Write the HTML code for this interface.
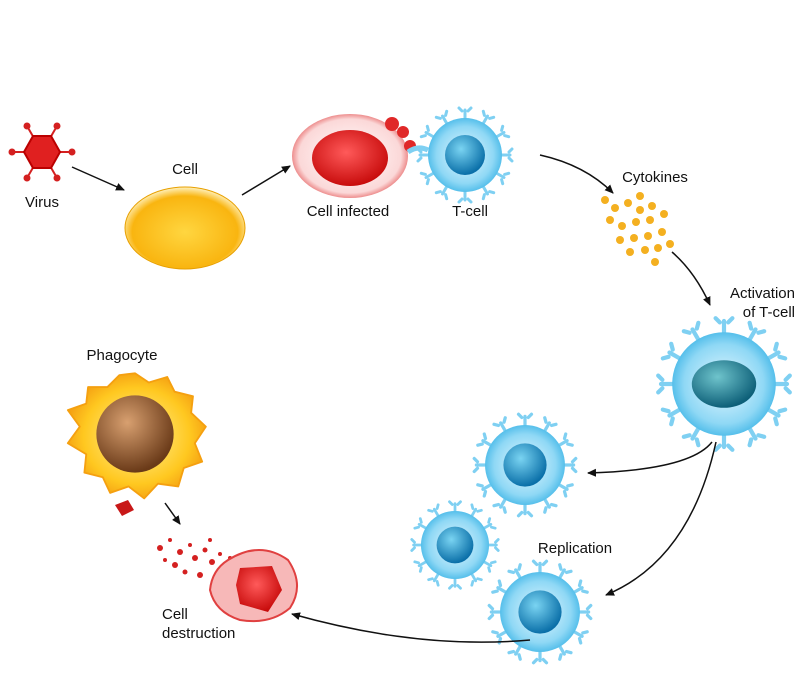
<!DOCTYPE html>
<html><head><meta charset="utf-8">
<style>
html,body{margin:0;padding:0;background:#fff;}
svg{display:block;}
text{font-family:"Liberation Sans",sans-serif;font-size:15px;fill:#111;}
</style></head>
<body>
<svg width="800" height="675" viewBox="0 0 800 675" xmlns="http://www.w3.org/2000/svg">
<defs>
<radialGradient id="yel" cx="50%" cy="55%" r="55%"><stop offset="0" stop-color="#ffd640"/><stop offset="0.8" stop-color="#f9b510"/><stop offset="1" stop-color="#fff2c0"/></radialGradient>
<radialGradient id="pink" cx="50%" cy="50%" r="55%"><stop offset="0" stop-color="#fff"/><stop offset="0.8" stop-color="#fbd8d8"/><stop offset="1" stop-color="#e25050"/></radialGradient>
<radialGradient id="red" cx="45%" cy="40%" r="60%"><stop offset="0" stop-color="#ff5a5a"/><stop offset="1" stop-color="#c80c0c"/></radialGradient>
<radialGradient id="blue" cx="50%" cy="50%" r="55%"><stop offset="0" stop-color="#e8f8ff"/><stop offset="0.7" stop-color="#8fd8f5"/><stop offset="1" stop-color="#3cb4e6"/></radialGradient>
<radialGradient id="nuc" cx="40%" cy="35%" r="65%"><stop offset="0" stop-color="#7ad4f2"/><stop offset="1" stop-color="#0a6fa8"/></radialGradient>
<radialGradient id="nuc2" cx="40%" cy="35%" r="65%"><stop offset="0" stop-color="#6fc4cc"/><stop offset="1" stop-color="#0d5f78"/></radialGradient>
<radialGradient id="phag" cx="50%" cy="50%" r="55%"><stop offset="0" stop-color="#fff3a0"/><stop offset="0.7" stop-color="#ffc820"/><stop offset="1" stop-color="#f39a10"/></radialGradient>
<radialGradient id="brown" cx="40%" cy="35%" r="65%"><stop offset="0" stop-color="#d8a070"/><stop offset="1" stop-color="#6a3a18"/></radialGradient>
<marker id="ah" markerWidth="10" markerHeight="10" refX="8" refY="5" orient="auto" markerUnits="userSpaceOnUse"><path d="M0,1 L9,5 L0,9 Z" fill="#111"/></marker>
<g id="spk">
  <g stroke="#7fd0f2" stroke-width="3" stroke-linecap="round" fill="none">
    <path d="M0,-1 V-9 M-3,-8 L-6,-11 M3,-8 L6,-11"/>
  </g>
</g>
<g id="spikes">
  <use href="#spk" transform="rotate(0) translate(0,-36)"/>
  <use href="#spk" transform="rotate(30) translate(0,-36)"/>
  <use href="#spk" transform="rotate(60) translate(0,-36)"/>
  <use href="#spk" transform="rotate(90) translate(0,-36)"/>
  <use href="#spk" transform="rotate(120) translate(0,-36)"/>
  <use href="#spk" transform="rotate(150) translate(0,-36)"/>
  <use href="#spk" transform="rotate(180) translate(0,-36)"/>
  <use href="#spk" transform="rotate(210) translate(0,-36)"/>
  <use href="#spk" transform="rotate(240) translate(0,-36)"/>
  <use href="#spk" transform="rotate(270) translate(0,-36)"/>
  <use href="#spk" transform="rotate(300) translate(0,-36)"/>
  <use href="#spk" transform="rotate(330) translate(0,-36)"/>
  <circle r="37" fill="url(#blue)"/>
</g>
<g id="tc">
  <use href="#spikes"/>
  <circle r="20" fill="url(#nuc)"/>
</g>
</defs>

<!-- Virus -->
<g transform="translate(42,152)" stroke="#d42020" stroke-width="2">
  <line x1="-30" y1="0" x2="30" y2="0"/><line x1="-15" y1="-26" x2="15" y2="26"/><line x1="15" y1="-26" x2="-15" y2="26"/>
  <circle cx="-30" cy="0" r="2.5" fill="#d42020"/><circle cx="30" cy="0" r="2.5" fill="#d42020"/>
  <circle cx="-15" cy="-26" r="2.5" fill="#d42020"/><circle cx="15" cy="26" r="2.5" fill="#d42020"/>
  <circle cx="15" cy="-26" r="2.5" fill="#d42020"/><circle cx="-15" cy="26" r="2.5" fill="#d42020"/>
  <polygon points="-18,0 -9,-16 9,-16 18,0 9,16 -9,16" fill="#e02020" stroke="#b00"/>
</g>
<text x="42" y="207" text-anchor="middle">Virus</text>
<line x1="72" y1="167" x2="124" y2="190" stroke="#111" stroke-width="1.5" marker-end="url(#ah)"/>

<!-- Cell -->
<ellipse cx="185" cy="228" rx="60" ry="41" fill="url(#yel)" stroke="#e8a000" stroke-width="1"/>
<text x="185" y="174" text-anchor="middle">Cell</text>
<line x1="242" y1="195" x2="290" y2="166" stroke="#111" stroke-width="1.5" marker-end="url(#ah)"/>

<!-- Cell infected -->
<ellipse cx="350" cy="156" rx="58" ry="42" fill="url(#pink)"/>
<ellipse cx="350" cy="158" rx="38" ry="28" fill="url(#red)"/>
<circle cx="392" cy="124" r="7" fill="#e02828"/><circle cx="403" cy="132" r="6" fill="#e02828"/><circle cx="410" cy="146" r="6" fill="#e02828"/>
<path d="M408,152 Q418,145 428,150" stroke="#7fd0f2" stroke-width="5" fill="none"/>
<text x="348" y="216" text-anchor="middle">Cell infected</text>

<!-- T-cell -->
<use href="#tc" transform="translate(465,155)"/>
<text x="470" y="216" text-anchor="middle">T-cell</text>
<path d="M540,155 Q585,165 613,193" fill="none" stroke="#111" stroke-width="1.5" marker-end="url(#ah)"/>

<!-- Cytokines -->
<text x="655" y="182" text-anchor="middle">Cytokines</text>
<g fill="#f4b020">
  <circle cx="605" cy="200" r="4"/><circle cx="615" cy="208" r="4"/><circle cx="628" cy="203" r="4"/><circle cx="640" cy="210" r="4"/>
  <circle cx="610" cy="220" r="4"/><circle cx="622" cy="226" r="4"/><circle cx="636" cy="222" r="4"/><circle cx="650" cy="220" r="4"/>
  <circle cx="620" cy="240" r="4"/><circle cx="634" cy="238" r="4"/><circle cx="648" cy="236" r="4"/><circle cx="662" cy="232" r="4"/>
  <circle cx="630" cy="252" r="4"/><circle cx="645" cy="250" r="4"/><circle cx="658" cy="248" r="4"/><circle cx="670" cy="244" r="4"/>
  <circle cx="655" cy="262" r="4"/><circle cx="640" cy="196" r="4"/><circle cx="652" cy="206" r="4"/><circle cx="664" cy="214" r="4"/>
</g>
<path d="M672,252 Q695,272 710,305" fill="none" stroke="#111" stroke-width="1.5" marker-end="url(#ah)"/>
<text x="795" y="298" text-anchor="end">Activation</text>
<text x="795" y="317" text-anchor="end">of T-cell</text>

<!-- Activated T-cell -->
<g transform="translate(724,384) scale(1.4)">
  <use href="#spikes"/>
  <ellipse rx="23" ry="17" fill="url(#nuc2)"/>
</g>
<path d="M712,442 Q690,470 588,473" fill="none" stroke="#111" stroke-width="1.5" marker-end="url(#ah)"/>
<path d="M716,442 Q690,560 606,595" fill="none" stroke="#111" stroke-width="1.5" marker-end="url(#ah)"/>

<!-- Replicated T-cells -->
<use href="#tc" transform="translate(525,465) scale(1.08)"/>
<use href="#tc" transform="translate(455,545) scale(0.92)"/>
<use href="#tc" transform="translate(540,612) scale(1.08)"/>
<text x="575" y="553" text-anchor="middle">Replication</text>
<path d="M530,640 Q420,650 292,614" fill="none" stroke="#111" stroke-width="1.5" marker-end="url(#ah)"/>

<!-- Phagocyte -->
<text x="122" y="360" text-anchor="middle">Phagocyte</text>
<g transform="translate(135,434) scale(0.92) translate(-135,-428)">
<path d="M135,362 L150,372 L170,366 L178,382 L198,387 L196,405 L212,420 L200,438 L208,458 L188,465 L182,485 L160,482 L145,498 L128,485 L108,492 L100,475 L80,470 L82,450 L62,438 L75,420 L62,402 L82,395 L84,377 L105,377 L118,364 Z" fill="url(#phag)" stroke="#f5a010" stroke-width="2" stroke-linejoin="round"/>
<circle cx="135" cy="428" r="42" fill="url(#brown)"/>
</g>
<path d="M115,505 L128,500 L134,510 L122,516 Z" fill="#c81818"/>
<line x1="165" y1="503" x2="180" y2="524" stroke="#111" stroke-width="1.5" marker-end="url(#ah)"/>

<!-- Debris -->
<g fill="#d42020">
  <circle cx="160" cy="548" r="3"/><circle cx="170" cy="540" r="2"/><circle cx="180" cy="552" r="3"/><circle cx="190" cy="545" r="2"/>
  <circle cx="195" cy="558" r="3"/><circle cx="205" cy="550" r="2.5"/><circle cx="212" cy="562" r="3"/><circle cx="220" cy="554" r="2"/>
  <circle cx="175" cy="565" r="3"/><circle cx="185" cy="572" r="2.5"/><circle cx="200" cy="575" r="3"/><circle cx="225" cy="570" r="2"/>
  <circle cx="230" cy="558" r="2"/><circle cx="165" cy="560" r="2"/><circle cx="210" cy="540" r="2"/>
</g>

<!-- Cell destruction -->
<path d="M228,560 Q260,540 288,560 Q305,585 290,608 Q270,625 240,620 Q215,612 210,590 Q212,570 228,560 Z" fill="#f7b8b8" stroke="#e04040" stroke-width="2"/>
<path d="M240,568 L272,566 L282,590 L268,612 L240,604 L236,585 Z" fill="url(#red)"/>
<text x="162" y="619">Cell</text>
<text x="162" y="638">destruction</text>
</svg>
</body></html>
